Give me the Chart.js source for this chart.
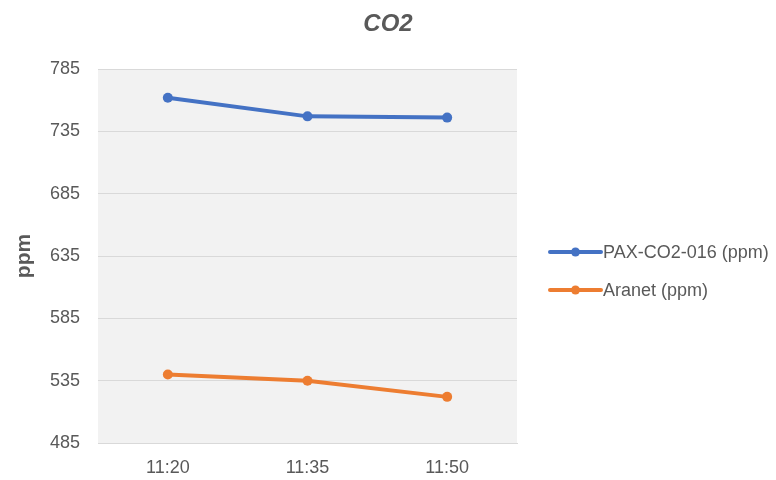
<!DOCTYPE html>
<html>
<head>
<meta charset="utf-8">
<script src="https://cdn.jsdelivr.net/npm/chart.js@4.4.1/dist/chart.umd.min.js"></script>
<style>
  html, body { margin: 0; padding: 0; background: #fff; }
  #wrap { width: 776px; height: 480px; }
</style>
</head>
<body>
<div id="wrap"><canvas id="co2"></canvas></div>
<script>
  const TIMES = ["11:20", "11:35", "11:50"];
  const PAX_PPM = [762, 747, 746];
  const ARANET_PPM = [540, 535, 522];
  const Y_MIN = 485;
  const Y_MAX = 785;
  const Y_STEP = 50;

  const BLUE = "#4472c4";
  const ORANGE = "#ed7d31";
  const TEXT = "#595959";
  const GRID = "#d9d9d9";
  const FONT = "'Liberation Sans', Arial, sans-serif";

  // grey plot panel behind the lines
  const panelBg = {
    id: "panelBg",
    beforeDraw(chart) {
      const { ctx, chartArea: a } = chart;
      ctx.save();
      ctx.fillStyle = "#f2f2f2";
      ctx.fillRect(a.left, a.top, a.right - a.left, a.bottom - a.top);
      ctx.restore();
    },
  };

  // title centred over the whole canvas (the built-in one only spans the plot side)
  const wideTitle = {
    id: "wideTitle",
    afterDraw(chart) {
      const { ctx, width } = chart;
      ctx.save();
      ctx.fillStyle = TEXT;
      ctx.font = `italic bold 24px ${FONT}`;
      ctx.textAlign = "center";
      ctx.textBaseline = "middle";
      ctx.fillText("CO2", width / 2, 24);
      ctx.restore();
    },
  };

  // legend on the right: short line with a dot, then the series name
  const sideLegend = {
    id: "sideLegend",
    afterDraw(chart) {
      const { ctx } = chart;
      const x0 = 550, x1 = 601, rowY = [252, 290];
      ctx.save();
      chart.data.datasets.forEach((ds, i) => {
        const y = rowY[i];
        ctx.strokeStyle = ds.borderColor;
        ctx.lineWidth = 4;
        ctx.lineCap = "round";
        ctx.beginPath();
        ctx.moveTo(x0, y);
        ctx.lineTo(x1, y);
        ctx.stroke();
        ctx.fillStyle = ds.borderColor;
        ctx.beginPath();
        ctx.arc((x0 + x1) / 2, y, 4.5, 0, Math.PI * 2);
        ctx.fill();
        ctx.fillStyle = TEXT;
        ctx.font = `18px ${FONT}`;
        ctx.textBaseline = "middle";
        ctx.fillText(ds.label, 603, y + 1);
      });
      ctx.restore();
    },
  };

  const line = (label, data, color) => ({
    label, data,
    borderColor: color,
    backgroundColor: color,
    borderWidth: 4,
    pointRadius: 5,
    pointHoverRadius: 5,
    pointBorderWidth: 0,
    tension: 0,
  });

  new Chart(document.getElementById("co2"), {
    type: "line",
    data: {
      labels: TIMES,
      datasets: [
        line("PAX-CO2-016 (ppm)", PAX_PPM, BLUE),
        line("Aranet (ppm)", ARANET_PPM, ORANGE),
      ],
    },
    plugins: [panelBg, wideTitle, sideLegend],
    options: {
      responsive: true,
      maintainAspectRatio: false,
      animation: false,
      layout: { padding: { left: 0, right: 259, top: 69, bottom: 0 } },
      plugins: {
        legend: { display: false },
        tooltip: { enabled: false },
        title: { display: false },
      },
      scales: {
        x: {
          offset: true,
          grid: { display: false, drawTicks: false },
          border: { color: GRID, width: 1 },
          ticks: { color: TEXT, font: { family: FONT, size: 18 }, padding: 14 },
          afterFit(scale) { scale.height = 37; },
        },
        y: {
          min: Y_MIN,
          max: Y_MAX,
          grid: { color: GRID, drawTicks: false },
          border: { display: false },
          ticks: {
            stepSize: Y_STEP,
            color: TEXT,
            font: { family: FONT, size: 18 },
            padding: 18,
          },
          title: {
            display: true,
            text: "ppm",
            color: TEXT,
            font: { family: FONT, size: 21, weight: "bold" },
            padding: { top: 12, bottom: 0 },
          },
          afterFit(scale) { scale.width = 98; },
        },
      },
    },
  });
</script>
</body>
</html>
